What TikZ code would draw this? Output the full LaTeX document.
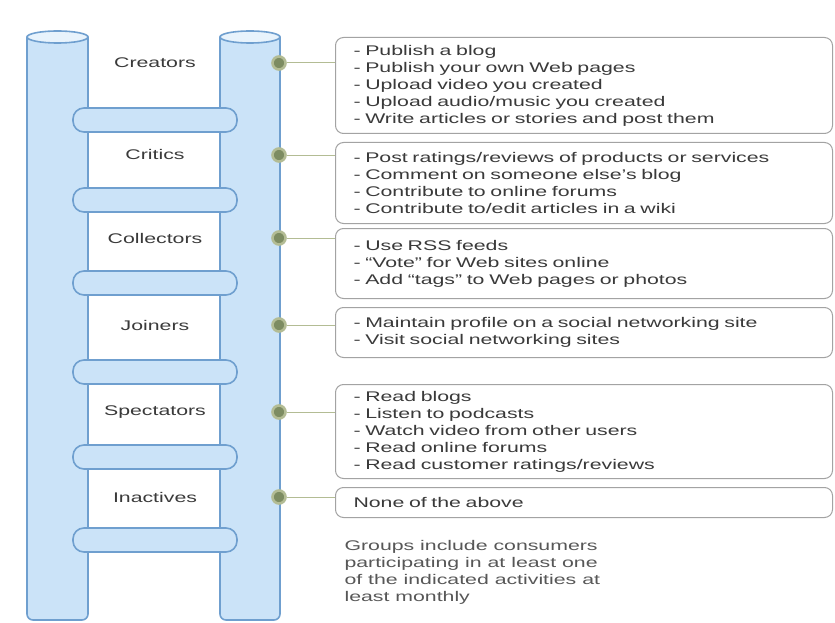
\documentclass[tikz,border=0pt]{standalone}
\usepackage{fontspec}
\setmainfont{Liberation Sans}[FakeStretch=1.52]
\usepackage{tikz}
\usetikzlibrary{
  positioning,
  calc
}
\definecolor{ladFill}{HTML}{CBE3F8}
\definecolor{ladTop}{HTML}{E8F3FC}
\definecolor{ladEdge}{HTML}{6F9FCF}
\definecolor{ladText}{HTML}{3A3A3A}
\definecolor{ladBox}{HTML}{A3A3A3}
\definecolor{ladHook}{HTML}{B3BC94}
\definecolor{ladDot}{HTML}{7D8C62}
\tikzset{
  rail/.style={fill=ladFill, draw=ladEdge, line width=1.6pt},
  railcap/.style={fill=ladTop, draw=ladEdge, line width=1.6pt},
  rung/.style={
    draw=ladEdge, fill=ladFill, line width=1.6pt, rounded corners=11pt,
    minimum width=164pt, minimum height=24pt, inner sep=0pt
  },
  grouplabel/.style={font=\fontsize{14}{15}\selectfont, text=ladText},
  actbox/.style={
    draw=ladBox, rounded corners=8pt, line width=1pt, anchor=north west,
    minimum width=497pt, text width=461pt, align=left, inner xsep=18pt,
    font=\fontsize{14}{17}\selectfont, text=ladText
  },
  hookdot/.style={circle, fill=ladDot, draw=ladHook, line width=2.6pt, minimum size=13pt, inner sep=0pt},
  hookline/.style={draw=ladHook, line width=1pt},
  notetext/.style={anchor=north west, align=left, font=\fontsize{14}{17}\selectfont, text=ladText!85}
}

\begin{document}
\begin{tikzpicture}[x=1pt, y=1pt]
  \useasboundingbox[fill=white] (0,0) rectangle (835,-623);
  % the two rails
  \draw[rail, rounded corners=6pt] (27,-37) -- (27,-620) -- (88,-620) -- (88,-37);
  \draw[railcap] (57.5,-37) ellipse (30.5 and 6);
  \draw[rail, rounded corners=6pt] (220,-37) -- (220,-620) -- (280,-620) -- (280,-37);
  \draw[railcap] (250,-37) ellipse (30 and 6);
  % rungs
  \foreach \y [count=\i] in {120,200,283,372,457,540}
    \node[rung] (rung\i) at (155,-\y) {};
  % group names
  \node[grouplabel] (creators) at (155,-63) {Creators};
  \node[grouplabel] (critics) at (155,-154) {Critics};
  \node[grouplabel] (collectors) at (155,-238) {Collectors};
  \node[grouplabel] (joiners) at (155,-325) {Joiners};
  \node[grouplabel] (spectators) at (155,-412) {Spectators};
  \node[grouplabel] (inactives) at (155,-497) {Inactives};
  % activity boxes
  \node[actbox, minimum height=96pt] (box1) at (335,-37) {- Publish a blog\\- Publish your own Web pages\\- Upload video you created\\- Upload audio/music you created\\- Write articles or stories and post them};
  \node[actbox, minimum height=81pt] (box2) at (335,-142) {- Post ratings/reviews of products or services\\- Comment on someone else’s blog\\- Contribute to online forums\\- Contribute to/edit articles in a wiki};
  \node[actbox, minimum height=70pt] (box3) at (335,-228) {- Use RSS feeds\\- “Vote” for Web sites online\\- Add “tags” to Web pages or photos};
  \node[actbox, minimum height=50pt] (box4) at (335,-307) {- Maintain profile on a social networking site\\- Visit social networking sites};
  \node[actbox, minimum height=94pt] (box5) at (335,-384) {- Read blogs\\- Listen to podcasts\\- Watch video from other users\\- Read online forums\\- Read customer ratings/reviews};
  \node[actbox, minimum height=30pt] (box6) at (335,-487) {None of the above};
  % hooks on the right rail
  \node[hookdot] (dot1) at (279,-63) {};
  \node[hookdot] (dot2) at (279,-155) {};
  \node[hookdot] (dot3) at (279,-238) {};
  \node[hookdot] (dot4) at (279,-325) {};
  \node[hookdot] (dot5) at (279,-412) {};
  \node[hookdot] (dot6) at (279,-497) {};
  \foreach \i in {1,...,6}
    \draw[hookline] (dot\i) -- (dot\i -| box\i.west);
  % note
  \node[notetext] (note) at (341,-537) {Groups include consumers\\participating in at least one\\of the indicated activities at\\least monthly};
\end{tikzpicture}
\end{document}
